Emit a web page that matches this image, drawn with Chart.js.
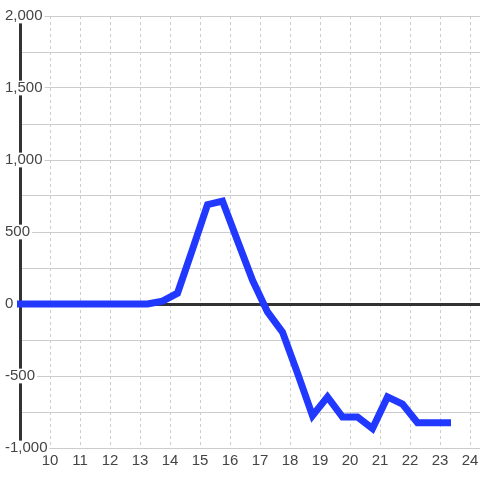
<!DOCTYPE html>
<html>
<head>
<meta charset="utf-8">
<script src="https://cdn.jsdelivr.net/npm/chart.js@4"></script>
<style>
  html, body { margin: 0; background: #fff; }
  #wrap { width: 480px; height: 480px; }
</style>
</head>
<body>
<div id="wrap"><canvas id="chart"></canvas></div>
<script>
// half-hour samples
const hours = [8.75, 9.25, 9.75, 10.25, 10.75, 11.25, 11.75, 12.25, 12.75, 13.25,
  13.75, 14.25, 14.75, 15.25, 15.75, 16.25, 16.75, 17.25, 17.75, 18.25,
  18.75, 19.25, 19.75, 20.25, 20.75, 21.25, 21.75, 22.25, 22.75, 23.25];
const values = [0, 0, 0, 0, 0, 0, 0, 0, 0, 0,
  20, 75, 380, 690, 715, 440, 165, -55, -195, -480,
  -775, -645, -785, -785, -865, -645, -695, -825, -825, -825];

const xTicks = [10, 11, 12, 13, 14, 15, 16, 17, 18, 19, 20, 21, 22, 23, 24];
const yTicks = [-1000, -500, 0, 500, 1000, 1500, 2000];

const GRID = '#cccccc';
const INK = '#333333';
const TEXT = '#444444';
const LINE = '#2138ff';
const FONT = '"Liberation Sans", Arial, sans-serif';

new Chart(document.getElementById('chart'), {
  type: 'line',
  data: {
    datasets: [{
      data: hours.map((h, i) => ({ x: h, y: values[i] })),
      borderColor: LINE,
      borderWidth: 7,
      borderCapStyle: 'square',
      pointRadius: 0,
      tension: 0,
      fill: false,
      clip: { left: 3, right: 3, top: 4, bottom: 4 },
    }],
  },
  options: {
    responsive: true,
    maintainAspectRatio: false,
    animation: false,
    layout: { padding: { top: 16, right: 0, bottom: 6, left: 0 } },
    plugins: { legend: { display: false }, tooltip: { enabled: false } },
    scales: {
      x: {
        type: 'linear',
        min: 9,
        max: 24 + 1 / 3,
        grid: { color: GRID, lineWidth: 1, drawTicks: false, borderDash: [3, 3] },
        border: { display: false, dash: [3, 3] },
        ticks: {
          stepSize: 1,
          includeBounds: false,
          padding: 4,
          maxRotation: 0,
          autoSkip: false,
          color: TEXT,
          font: { family: FONT, size: 15 },
          callback: (v) => (xTicks.includes(v) ? String(v) : ''),
        },
        afterFit: (s) => { s.paddingLeft = 0; s.paddingRight = 0; },
      },
      y: {
        min: -1000,
        max: 2000,
        grid: {
          color: (ctx) => (ctx.tick && ctx.tick.value === 0 ? INK : GRID),
          lineWidth: (ctx) => (ctx.tick && ctx.tick.value === 0 ? 3 : 1),
          drawTicks: false,
        },
        border: { display: true, color: INK, width: 3 },
        ticks: {
          stepSize: 250,
          mirror: true,
          padding: -15,
          color: TEXT,
          font: { family: FONT, size: 15, lineHeight: 0.85 },
          showLabelBackdrop: (ctx) => yTicks.includes(ctx.tick.value),
          backdropColor: '#ffffff',
          backdropPadding: { top: 1, bottom: 1, left: 2, right: 2 },
          callback: (v) => (yTicks.includes(v) ? v.toLocaleString('en-US') : ''),
        },
        afterFit: (s) => { s.width = 20; s.paddingTop = 0; s.paddingBottom = 0; },
      },
    },
  },
});
</script>
</body>
</html>
